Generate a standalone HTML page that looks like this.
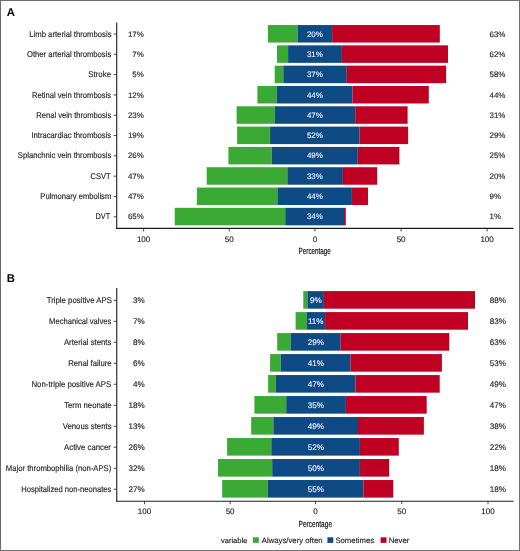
<!DOCTYPE html>
<html><head><meta charset="utf-8"><style>
html,body{margin:0;padding:0;background:#fff;}
svg{display:block;will-change:transform;}
text{font-family:"Liberation Sans", sans-serif;text-rendering:geometricPrecision;}
</style></head><body>
<svg width="520" height="551" viewBox="0 0 520 551">
<rect x="0" y="0" width="520" height="551" fill="#fff"/>
<rect x="0" y="0" width="520" height="1" fill="#6e6e6e"/>
<rect x="0" y="0" width="1" height="551" fill="#6c6c6c"/>
<rect x="519" y="0" width="1" height="551" fill="#707070"/>
<rect x="0" y="550" width="520" height="1" fill="#727272"/>
<text x="6.8" y="16.3" font-size="11.3" font-weight="bold" fill="#000">A</text>
<rect x="267.9" y="25.05" width="29.7" height="17.5" fill="#3aaa35"/>
<rect x="297.6" y="25.05" width="34.5" height="17.5" fill="#0e4a84"/>
<rect x="332.1" y="25.05" width="107.7" height="17.5" fill="#c00023"/>
<text x="0" y="0" transform="translate(111.54,36.6) scale(0.9207,1)" text-anchor="end" font-size="8.4" fill="#262626" stroke="#262626" stroke-width="0.15">Limb arterial thrombosis</text>
<line x1="113.7" x2="116.7" y1="34" y2="34" stroke="#1c1c1c" stroke-width="0.8"/>
<text x="143.8" y="36.6" text-anchor="end" font-size="7.95" fill="#262626" stroke="#262626" stroke-width="0.15">17%</text>
<text x="489.5" y="36.6" font-size="7.95" fill="#262626" stroke="#262626" stroke-width="0.15">63%</text>
<text x="314.9" y="36.6" text-anchor="middle" font-size="7.95" fill="#e8ecff" stroke="#e8ecff" stroke-width="0.15">20%</text>
<rect x="277" y="45.36" width="11.1" height="17.5" fill="#3aaa35"/>
<rect x="288.1" y="45.36" width="53.8" height="17.5" fill="#0e4a84"/>
<rect x="341.9" y="45.36" width="106.1" height="17.5" fill="#c00023"/>
<text x="0" y="0" transform="translate(111.24,56.91) scale(0.9147,1)" text-anchor="end" font-size="8.4" fill="#262626" stroke="#262626" stroke-width="0.15">Other arterial thrombosis</text>
<line x1="113.7" x2="116.7" y1="54.31" y2="54.31" stroke="#1c1c1c" stroke-width="0.8"/>
<text x="143.8" y="56.91" text-anchor="end" font-size="7.95" fill="#262626" stroke="#262626" stroke-width="0.15">7%</text>
<text x="489.5" y="56.91" font-size="7.95" fill="#262626" stroke="#262626" stroke-width="0.15">62%</text>
<text x="314.9" y="56.91" text-anchor="middle" font-size="7.95" fill="#e8ecff" stroke="#e8ecff" stroke-width="0.15">31%</text>
<rect x="274.7" y="65.67" width="8.6" height="17.5" fill="#3aaa35"/>
<rect x="283.3" y="65.67" width="63.5" height="17.5" fill="#0e4a84"/>
<rect x="346.8" y="65.67" width="99.3" height="17.5" fill="#c00023"/>
<text x="0" y="0" transform="translate(111.05,77.22) scale(0.9381,1)" text-anchor="end" font-size="8.4" fill="#262626" stroke="#262626" stroke-width="0.15">Stroke</text>
<line x1="113.7" x2="116.7" y1="74.62" y2="74.62" stroke="#1c1c1c" stroke-width="0.8"/>
<text x="143.8" y="77.22" text-anchor="end" font-size="7.95" fill="#262626" stroke="#262626" stroke-width="0.15">5%</text>
<text x="489.5" y="77.22" font-size="7.95" fill="#262626" stroke="#262626" stroke-width="0.15">58%</text>
<text x="314.9" y="77.22" text-anchor="middle" font-size="7.95" fill="#e8ecff" stroke="#e8ecff" stroke-width="0.15">37%</text>
<rect x="257.4" y="85.98" width="19.4" height="17.5" fill="#3aaa35"/>
<rect x="276.8" y="85.98" width="75.7" height="17.5" fill="#0e4a84"/>
<rect x="352.5" y="85.98" width="76.3" height="17.5" fill="#c00023"/>
<text x="0" y="0" transform="translate(111.19,97.53) scale(0.9111,1)" text-anchor="end" font-size="8.4" fill="#262626" stroke="#262626" stroke-width="0.15">Retinal vein thrombosis</text>
<line x1="113.7" x2="116.7" y1="94.93" y2="94.93" stroke="#1c1c1c" stroke-width="0.8"/>
<text x="143.8" y="97.53" text-anchor="end" font-size="7.95" fill="#262626" stroke="#262626" stroke-width="0.15">12%</text>
<text x="489.5" y="97.53" font-size="7.95" fill="#262626" stroke="#262626" stroke-width="0.15">44%</text>
<text x="314.9" y="97.53" text-anchor="middle" font-size="7.95" fill="#e8ecff" stroke="#e8ecff" stroke-width="0.15">44%</text>
<rect x="236.6" y="106.29" width="38.3" height="17.5" fill="#3aaa35"/>
<rect x="274.9" y="106.29" width="80.3" height="17.5" fill="#0e4a84"/>
<rect x="355.2" y="106.29" width="52.4" height="17.5" fill="#c00023"/>
<text x="0" y="0" transform="translate(111.23,117.84) scale(0.9043,1)" text-anchor="end" font-size="8.4" fill="#262626" stroke="#262626" stroke-width="0.15">Renal vein thrombosis</text>
<line x1="113.7" x2="116.7" y1="115.24" y2="115.24" stroke="#1c1c1c" stroke-width="0.8"/>
<text x="143.8" y="117.84" text-anchor="end" font-size="7.95" fill="#262626" stroke="#262626" stroke-width="0.15">23%</text>
<text x="489.5" y="117.84" font-size="7.95" fill="#262626" stroke="#262626" stroke-width="0.15">31%</text>
<text x="314.9" y="117.84" text-anchor="middle" font-size="7.95" fill="#e8ecff" stroke="#e8ecff" stroke-width="0.15">47%</text>
<rect x="237.1" y="126.6" width="33" height="17.5" fill="#3aaa35"/>
<rect x="270.1" y="126.6" width="89.4" height="17.5" fill="#0e4a84"/>
<rect x="359.5" y="126.6" width="48.6" height="17.5" fill="#c00023"/>
<text x="0" y="0" transform="translate(111.21,138.15) scale(0.9170,1)" text-anchor="end" font-size="8.4" fill="#262626" stroke="#262626" stroke-width="0.15">Intracardiac thrombosis</text>
<line x1="113.7" x2="116.7" y1="135.55" y2="135.55" stroke="#1c1c1c" stroke-width="0.8"/>
<text x="143.8" y="138.15" text-anchor="end" font-size="7.95" fill="#262626" stroke="#262626" stroke-width="0.15">19%</text>
<text x="489.5" y="138.15" font-size="7.95" fill="#262626" stroke="#262626" stroke-width="0.15">29%</text>
<text x="314.9" y="138.15" text-anchor="middle" font-size="7.95" fill="#e8ecff" stroke="#e8ecff" stroke-width="0.15">52%</text>
<rect x="228.4" y="146.91" width="43.3" height="17.5" fill="#3aaa35"/>
<rect x="271.7" y="146.91" width="86.1" height="17.5" fill="#0e4a84"/>
<rect x="357.8" y="146.91" width="41.6" height="17.5" fill="#c00023"/>
<text x="0" y="0" transform="translate(111.28,158.46) scale(0.9170,1)" text-anchor="end" font-size="8.4" fill="#262626" stroke="#262626" stroke-width="0.15">Splanchnic vein thrombosis</text>
<line x1="113.7" x2="116.7" y1="155.86" y2="155.86" stroke="#1c1c1c" stroke-width="0.8"/>
<text x="143.8" y="158.46" text-anchor="end" font-size="7.95" fill="#262626" stroke="#262626" stroke-width="0.15">26%</text>
<text x="489.5" y="158.46" font-size="7.95" fill="#262626" stroke="#262626" stroke-width="0.15">25%</text>
<text x="314.9" y="158.46" text-anchor="middle" font-size="7.95" fill="#e8ecff" stroke="#e8ecff" stroke-width="0.15">49%</text>
<rect x="206.7" y="167.22" width="80.7" height="17.5" fill="#3aaa35"/>
<rect x="287.4" y="167.22" width="55.5" height="17.5" fill="#0e4a84"/>
<rect x="342.9" y="167.22" width="34.3" height="17.5" fill="#c00023"/>
<text x="0" y="0" transform="translate(110.61,178.77) scale(0.8984,1)" text-anchor="end" font-size="8.4" fill="#262626" stroke="#262626" stroke-width="0.15">CSVT</text>
<line x1="113.7" x2="116.7" y1="176.17" y2="176.17" stroke="#1c1c1c" stroke-width="0.8"/>
<text x="143.8" y="178.77" text-anchor="end" font-size="7.95" fill="#262626" stroke="#262626" stroke-width="0.15">47%</text>
<text x="489.5" y="178.77" font-size="7.95" fill="#262626" stroke="#262626" stroke-width="0.15">20%</text>
<text x="314.9" y="178.77" text-anchor="middle" font-size="7.95" fill="#e8ecff" stroke="#e8ecff" stroke-width="0.15">33%</text>
<rect x="196.9" y="187.53" width="80.5" height="17.5" fill="#3aaa35"/>
<rect x="277.4" y="187.53" width="74.5" height="17.5" fill="#0e4a84"/>
<rect x="351.9" y="187.53" width="16.1" height="17.5" fill="#c00023"/>
<text x="0" y="0" transform="translate(111.26,199.08) scale(0.9072,1)" text-anchor="end" font-size="8.4" fill="#262626" stroke="#262626" stroke-width="0.15">Pulmonary embolism</text>
<line x1="113.7" x2="116.7" y1="196.48" y2="196.48" stroke="#1c1c1c" stroke-width="0.8"/>
<text x="143.8" y="199.08" text-anchor="end" font-size="7.95" fill="#262626" stroke="#262626" stroke-width="0.15">47%</text>
<text x="489.5" y="199.08" font-size="7.95" fill="#262626" stroke="#262626" stroke-width="0.15">9%</text>
<text x="314.9" y="199.08" text-anchor="middle" font-size="7.95" fill="#e8ecff" stroke="#e8ecff" stroke-width="0.15">44%</text>
<rect x="174.75" y="207.84" width="110.5" height="17.5" fill="#3aaa35"/>
<rect x="285.25" y="207.84" width="58.75" height="17.5" fill="#0e4a84"/>
<rect x="344" y="207.84" width="1.8" height="17.5" fill="#c00023"/>
<text x="0" y="0" transform="translate(110.14,219.39) scale(0.8695,1)" text-anchor="end" font-size="8.4" fill="#262626" stroke="#262626" stroke-width="0.15">DVT</text>
<line x1="113.7" x2="116.7" y1="216.79" y2="216.79" stroke="#1c1c1c" stroke-width="0.8"/>
<text x="143.8" y="219.39" text-anchor="end" font-size="7.95" fill="#262626" stroke="#262626" stroke-width="0.15">65%</text>
<text x="489.5" y="219.39" font-size="7.95" fill="#262626" stroke="#262626" stroke-width="0.15">1%</text>
<text x="314.9" y="219.39" text-anchor="middle" font-size="7.95" fill="#e8ecff" stroke="#e8ecff" stroke-width="0.15">34%</text>
<line x1="116.7" x2="116.7" y1="22.6" y2="228.9" stroke="#1c1c1c" stroke-width="1.1"/>
<line x1="116.2" x2="513.5" y1="228.4" y2="228.4" stroke="#1c1c1c" stroke-width="1.1"/>
<line x1="143.6" x2="143.6" y1="228.4" y2="231.4" stroke="#1c1c1c" stroke-width="0.8"/>
<text x="143.6" y="241.5" text-anchor="middle" font-size="8.0" fill="#262626" stroke="#262626" stroke-width="0.15">100</text>
<line x1="229.2" x2="229.2" y1="228.4" y2="231.4" stroke="#1c1c1c" stroke-width="0.8"/>
<text x="229.2" y="241.5" text-anchor="middle" font-size="8.0" fill="#262626" stroke="#262626" stroke-width="0.15">50</text>
<line x1="314.9" x2="314.9" y1="228.4" y2="231.4" stroke="#1c1c1c" stroke-width="0.8"/>
<text x="314.9" y="241.5" text-anchor="middle" font-size="8.0" fill="#262626" stroke="#262626" stroke-width="0.15">0</text>
<line x1="401.1" x2="401.1" y1="228.4" y2="231.4" stroke="#1c1c1c" stroke-width="0.8"/>
<text x="401.1" y="241.5" text-anchor="middle" font-size="8.0" fill="#262626" stroke="#262626" stroke-width="0.15">50</text>
<line x1="487.1" x2="487.1" y1="228.4" y2="231.4" stroke="#1c1c1c" stroke-width="0.8"/>
<text x="487.1" y="241.5" text-anchor="middle" font-size="8.0" fill="#262626" stroke="#262626" stroke-width="0.15">100</text>
<text x="0" y="0" transform="translate(314.7,254.4) scale(0.695,1)" text-anchor="middle" font-size="9.1" fill="#111" stroke="#111" stroke-width="0.2">Percentage</text>
<text x="6.8" y="281.7" font-size="11.3" font-weight="bold" fill="#000">B</text>
<rect x="303.3" y="291.1" width="4.1" height="17.6" fill="#3aaa35"/>
<rect x="307.4" y="291.1" width="16.5" height="17.6" fill="#0e4a84"/>
<rect x="323.9" y="291.1" width="151.1" height="17.6" fill="#c00023"/>
<text x="0" y="0" transform="translate(111.93,302.8) scale(0.9320,1)" text-anchor="end" font-size="8.4" fill="#262626" stroke="#262626" stroke-width="0.15">Triple positive APS</text>
<line x1="113.75" x2="116.75" y1="300.3" y2="300.3" stroke="#1c1c1c" stroke-width="0.8"/>
<text x="144.7" y="302.8" text-anchor="end" font-size="8.1" fill="#262626" stroke="#262626" stroke-width="0.15">3%</text>
<text x="489.8" y="302.8" font-size="8.1" fill="#262626" stroke="#262626" stroke-width="0.15">88%</text>
<text x="315.75" y="302.8" text-anchor="middle" font-size="8.1" fill="#e8ecff" stroke="#e8ecff" stroke-width="0.15">9%</text>
<rect x="295.6" y="312.09" width="11.3" height="17.6" fill="#3aaa35"/>
<rect x="306.9" y="312.09" width="18.2" height="17.6" fill="#0e4a84"/>
<rect x="325.1" y="312.09" width="142.9" height="17.6" fill="#c00023"/>
<text x="0" y="0" transform="translate(111.42,323.79) scale(0.9109,1)" text-anchor="end" font-size="8.4" fill="#262626" stroke="#262626" stroke-width="0.15">Mechanical valves</text>
<line x1="113.75" x2="116.75" y1="321.29" y2="321.29" stroke="#1c1c1c" stroke-width="0.8"/>
<text x="144.7" y="323.79" text-anchor="end" font-size="8.1" fill="#262626" stroke="#262626" stroke-width="0.15">7%</text>
<text x="489.8" y="323.79" font-size="8.1" fill="#262626" stroke="#262626" stroke-width="0.15">83%</text>
<text x="315.75" y="323.79" text-anchor="middle" font-size="8.1" fill="#e8ecff" stroke="#e8ecff" stroke-width="0.15">11%</text>
<rect x="277.2" y="333.08" width="13.3" height="17.6" fill="#3aaa35"/>
<rect x="290.5" y="333.08" width="50.2" height="17.6" fill="#0e4a84"/>
<rect x="340.7" y="333.08" width="108.6" height="17.6" fill="#c00023"/>
<text x="0" y="0" transform="translate(111.38,344.78) scale(0.9273,1)" text-anchor="end" font-size="8.4" fill="#262626" stroke="#262626" stroke-width="0.15">Arterial stents</text>
<line x1="113.75" x2="116.75" y1="342.28" y2="342.28" stroke="#1c1c1c" stroke-width="0.8"/>
<text x="144.7" y="344.78" text-anchor="end" font-size="8.1" fill="#262626" stroke="#262626" stroke-width="0.15">8%</text>
<text x="489.8" y="344.78" font-size="8.1" fill="#262626" stroke="#262626" stroke-width="0.15">63%</text>
<text x="315.75" y="344.78" text-anchor="middle" font-size="8.1" fill="#e8ecff" stroke="#e8ecff" stroke-width="0.15">29%</text>
<rect x="270.1" y="354.07" width="10.65" height="17.6" fill="#3aaa35"/>
<rect x="280.75" y="354.07" width="69.65" height="17.6" fill="#0e4a84"/>
<rect x="350.4" y="354.07" width="91.5" height="17.6" fill="#c00023"/>
<text x="0" y="0" transform="translate(111.64,365.77) scale(0.9232,1)" text-anchor="end" font-size="8.4" fill="#262626" stroke="#262626" stroke-width="0.15">Renal failure</text>
<line x1="113.75" x2="116.75" y1="363.27" y2="363.27" stroke="#1c1c1c" stroke-width="0.8"/>
<text x="144.7" y="365.77" text-anchor="end" font-size="8.1" fill="#262626" stroke="#262626" stroke-width="0.15">6%</text>
<text x="489.8" y="365.77" font-size="8.1" fill="#262626" stroke="#262626" stroke-width="0.15">53%</text>
<text x="315.75" y="365.77" text-anchor="middle" font-size="8.1" fill="#e8ecff" stroke="#e8ecff" stroke-width="0.15">41%</text>
<rect x="268.1" y="375.06" width="7.7" height="17.6" fill="#3aaa35"/>
<rect x="275.8" y="375.06" width="79.7" height="17.6" fill="#0e4a84"/>
<rect x="355.5" y="375.06" width="84.2" height="17.6" fill="#c00023"/>
<text x="0" y="0" transform="translate(111.20,386.76) scale(0.9305,1)" text-anchor="end" font-size="8.4" fill="#262626" stroke="#262626" stroke-width="0.15">Non-triple positive APS</text>
<line x1="113.75" x2="116.75" y1="384.26" y2="384.26" stroke="#1c1c1c" stroke-width="0.8"/>
<text x="144.7" y="386.76" text-anchor="end" font-size="8.1" fill="#262626" stroke="#262626" stroke-width="0.15">4%</text>
<text x="489.8" y="386.76" font-size="8.1" fill="#262626" stroke="#262626" stroke-width="0.15">49%</text>
<text x="315.75" y="386.76" text-anchor="middle" font-size="8.1" fill="#e8ecff" stroke="#e8ecff" stroke-width="0.15">47%</text>
<rect x="254.4" y="396.05" width="31.8" height="17.6" fill="#3aaa35"/>
<rect x="286.2" y="396.05" width="59.7" height="17.6" fill="#0e4a84"/>
<rect x="345.9" y="396.05" width="80.8" height="17.6" fill="#c00023"/>
<text x="0" y="0" transform="translate(111.61,407.75) scale(0.9269,1)" text-anchor="end" font-size="8.4" fill="#262626" stroke="#262626" stroke-width="0.15">Term neonate</text>
<line x1="113.75" x2="116.75" y1="405.25" y2="405.25" stroke="#1c1c1c" stroke-width="0.8"/>
<text x="144.7" y="407.75" text-anchor="end" font-size="8.1" fill="#262626" stroke="#262626" stroke-width="0.15">18%</text>
<text x="489.8" y="407.75" font-size="8.1" fill="#262626" stroke="#262626" stroke-width="0.15">47%</text>
<text x="315.75" y="407.75" text-anchor="middle" font-size="8.1" fill="#e8ecff" stroke="#e8ecff" stroke-width="0.15">35%</text>
<rect x="251.2" y="417.04" width="22.2" height="17.6" fill="#3aaa35"/>
<rect x="273.4" y="417.04" width="84.6" height="17.6" fill="#0e4a84"/>
<rect x="358" y="417.04" width="65.9" height="17.6" fill="#c00023"/>
<text x="0" y="0" transform="translate(111.58,428.74) scale(0.9292,1)" text-anchor="end" font-size="8.4" fill="#262626" stroke="#262626" stroke-width="0.15">Venous stents</text>
<line x1="113.75" x2="116.75" y1="426.24" y2="426.24" stroke="#1c1c1c" stroke-width="0.8"/>
<text x="144.7" y="428.74" text-anchor="end" font-size="8.1" fill="#262626" stroke="#262626" stroke-width="0.15">13%</text>
<text x="489.8" y="428.74" font-size="8.1" fill="#262626" stroke="#262626" stroke-width="0.15">38%</text>
<text x="315.75" y="428.74" text-anchor="middle" font-size="8.1" fill="#e8ecff" stroke="#e8ecff" stroke-width="0.15">49%</text>
<rect x="227.1" y="438.03" width="44.2" height="17.6" fill="#3aaa35"/>
<rect x="271.3" y="438.03" width="88.6" height="17.6" fill="#0e4a84"/>
<rect x="359.9" y="438.03" width="38.9" height="17.6" fill="#c00023"/>
<text x="0" y="0" transform="translate(110.87,449.73) scale(0.9299,1)" text-anchor="end" font-size="8.4" fill="#262626" stroke="#262626" stroke-width="0.15">Active cancer</text>
<line x1="113.75" x2="116.75" y1="447.23" y2="447.23" stroke="#1c1c1c" stroke-width="0.8"/>
<text x="144.7" y="449.73" text-anchor="end" font-size="8.1" fill="#262626" stroke="#262626" stroke-width="0.15">26%</text>
<text x="489.8" y="449.73" font-size="8.1" fill="#262626" stroke="#262626" stroke-width="0.15">22%</text>
<text x="315.75" y="449.73" text-anchor="middle" font-size="8.1" fill="#e8ecff" stroke="#e8ecff" stroke-width="0.15">52%</text>
<rect x="218" y="459.02" width="54.2" height="17.6" fill="#3aaa35"/>
<rect x="272.2" y="459.02" width="87.7" height="17.6" fill="#0e4a84"/>
<rect x="359.9" y="459.02" width="29.3" height="17.6" fill="#c00023"/>
<text x="0" y="0" transform="translate(111.21,470.72) scale(0.9161,1)" text-anchor="end" font-size="8.4" fill="#262626" stroke="#262626" stroke-width="0.15">Major thrombophilia (non-APS)</text>
<line x1="113.75" x2="116.75" y1="468.22" y2="468.22" stroke="#1c1c1c" stroke-width="0.8"/>
<text x="144.7" y="470.72" text-anchor="end" font-size="8.1" fill="#262626" stroke="#262626" stroke-width="0.15">32%</text>
<text x="489.8" y="470.72" font-size="8.1" fill="#262626" stroke="#262626" stroke-width="0.15">18%</text>
<text x="315.75" y="470.72" text-anchor="middle" font-size="8.1" fill="#e8ecff" stroke="#e8ecff" stroke-width="0.15">50%</text>
<rect x="222.2" y="480.01" width="45.6" height="17.6" fill="#3aaa35"/>
<rect x="267.8" y="480.01" width="95.6" height="17.6" fill="#0e4a84"/>
<rect x="363.4" y="480.01" width="29.9" height="17.6" fill="#c00023"/>
<text x="0" y="0" transform="translate(111.33,491.71) scale(0.9089,1)" text-anchor="end" font-size="8.4" fill="#262626" stroke="#262626" stroke-width="0.15">Hospitalized non-neonates</text>
<line x1="113.75" x2="116.75" y1="489.21" y2="489.21" stroke="#1c1c1c" stroke-width="0.8"/>
<text x="144.7" y="491.71" text-anchor="end" font-size="8.1" fill="#262626" stroke="#262626" stroke-width="0.15">27%</text>
<text x="489.8" y="491.71" font-size="8.1" fill="#262626" stroke="#262626" stroke-width="0.15">18%</text>
<text x="315.75" y="491.71" text-anchor="middle" font-size="8.1" fill="#e8ecff" stroke="#e8ecff" stroke-width="0.15">55%</text>
<line x1="116.75" x2="116.75" y1="288.1" y2="501.7" stroke="#1c1c1c" stroke-width="1.1"/>
<line x1="116.25" x2="513.5" y1="501.2" y2="501.2" stroke="#1c1c1c" stroke-width="1.1"/>
<line x1="144.5" x2="144.5" y1="501.2" y2="504.2" stroke="#1c1c1c" stroke-width="0.8"/>
<text x="144.5" y="513.7" text-anchor="middle" font-size="8.0" fill="#262626" stroke="#262626" stroke-width="0.15">100</text>
<line x1="230.1" x2="230.1" y1="501.2" y2="504.2" stroke="#1c1c1c" stroke-width="0.8"/>
<text x="230.1" y="513.7" text-anchor="middle" font-size="8.0" fill="#262626" stroke="#262626" stroke-width="0.15">50</text>
<line x1="315.5" x2="315.5" y1="501.2" y2="504.2" stroke="#1c1c1c" stroke-width="0.8"/>
<text x="315.5" y="513.7" text-anchor="middle" font-size="8.0" fill="#262626" stroke="#262626" stroke-width="0.15">0</text>
<line x1="401.7" x2="401.7" y1="501.2" y2="504.2" stroke="#1c1c1c" stroke-width="0.8"/>
<text x="401.7" y="513.7" text-anchor="middle" font-size="8.0" fill="#262626" stroke="#262626" stroke-width="0.15">50</text>
<line x1="488" x2="488" y1="501.2" y2="504.2" stroke="#1c1c1c" stroke-width="0.8"/>
<text x="488" y="513.7" text-anchor="middle" font-size="8.0" fill="#262626" stroke="#262626" stroke-width="0.15">100</text>
<text x="0" y="0" transform="translate(315.3,527.2) scale(0.72,1)" text-anchor="middle" font-size="9.1" fill="#111" stroke="#111" stroke-width="0.2">Percentage</text>
<text x="221.0" y="542.5" font-size="7.5" fill="#262626" stroke="#262626" stroke-width="0.15">variable</text>
<rect x="252.9" y="537.3" width="5.9" height="5.6" fill="#3aaa35"/>
<text x="261.8" y="542.5" font-size="7.75" fill="#262626" stroke="#262626" stroke-width="0.15">Always/very often</text>
<rect x="327.4" y="537.3" width="5.9" height="5.6" fill="#0e4a84"/>
<text x="335.4" y="542.5" font-size="7.75" fill="#262626" stroke="#262626" stroke-width="0.15">Sometimes</text>
<rect x="380.6" y="537.3" width="5.9" height="5.6" fill="#c00023"/>
<text x="388.7" y="542.5" font-size="7.75" fill="#262626" stroke="#262626" stroke-width="0.15">Never</text>
</svg>
</body></html>
